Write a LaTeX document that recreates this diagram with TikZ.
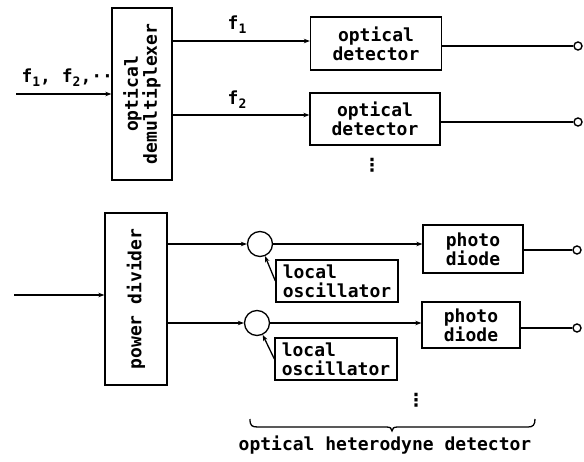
\documentclass[tikz,border=0pt]{standalone}
\usepackage{fontspec}
\newfontfamily\monof{DejaVu Sans Mono}
\newfontfamily\dotf{DejaVu Sans}
\usetikzlibrary{arrows.meta}
\newcommand{\sbs}[1]{\raisebox{-4pt}{\fontsize{13}{13}\selectfont #1}}
\begin{document}
\begin{tikzpicture}[x=1pt,y=-1pt,
  lbl/.style={font=\monof\bfseries\fontsize{18}{19}\selectfont},
  box/.style={draw,line width=1.3pt,rectangle,inner sep=0pt,align=center,lbl},
  mix/.style={draw,line width=1.3pt,circle,minimum size=25pt,inner sep=0pt},
  term/.style={draw,line width=1.4pt,circle,minimum size=8pt,inner sep=0pt},
  arr/.style={line width=1.3pt,-{Stealth[length=6pt,width=4.5pt]}},
  ln/.style={line width=1.3pt},
  vdots/.style={font=\dotf\bfseries\fontsize{18}{18}\selectfont}]
\useasboundingbox (0,0) rectangle (584,462);
% upper part
\node[box,minimum width=60pt,minimum height=172pt] (demux) at (142,94) {};
\node[lbl,rotate=90,align=center] (demuxt) at (demux.center) {optical\\demultiplexer};
\node[box,minimum width=131pt,minimum height=53pt] (det1) at (376,43.4) {optical\\detector};
\node[box,minimum width=130pt,minimum height=52pt] (det2) at (375,119) {optical\\detector};
\coordinate (in1) at (16,94);
\node[lbl,anchor=base west] (inl) at (18,83) {f\sbs{1}, f\sbs{2},··};
\draw[arr] (in1) -- (demux.west |- in1);
\draw[arr] (demux.east |- 0,41) -- (det1.west |- 0,41);
\draw[arr] (demux.east |- 0,115) -- (det2.west |- 0,115);
\node[lbl,anchor=base] (f1) at (237,30) {f\sbs{1}};
\node[lbl,anchor=base] (f2) at (237,105) {f\sbs{2}};
\node[term] (t1) at (578,46) {};
\node[term] (t2) at (578,122) {};
\draw[ln] (det1.east |- t1) -- (t1.west);
\draw[ln] (det2.east |- t2) -- (t2.west);
\node[vdots] (dots1) at (372,165) {⋮};
% lower part
\node[box,minimum width=62pt,minimum height=172pt] (pdiv) at (136,299) {};
\node[lbl,rotate=90] (pdivt) at (pdiv.center) {power divider};
\coordinate (in2) at (14,295);
\draw[arr] (in2) -- (pdiv.west |- in2);
\node[mix] (c1) at (260,244) {};
\node[mix] (c2) at (257,323) {};
\draw[arr] (pdiv.east |- c1) -- (c1.west);
\draw[arr] (pdiv.east |- c2) -- (c2.west);
\node[box,minimum width=122pt,minimum height=42pt,align=left] (lo1) at (337,281) {local\\oscillator};
\node[box,minimum width=122pt,minimum height=42pt,align=left] (lo2) at (336,359) {local\\oscillator};
\draw[arr] (lo1.west) -- (c1);
\draw[arr] (lo2.west) -- (c2);
\node[box,minimum width=100pt,minimum height=48pt] (ph1) at (473,249) {photo\\diode};
\node[box,minimum width=98pt,minimum height=46pt] (ph2) at (471,325) {photo\\diode};
\draw[arr] (c1.east) -- (ph1.west |- c1);
\draw[arr] (c2.east) -- (ph2.west |- c2);
\node[term] (t3) at (577,250) {};
\node[term] (t4) at (577,328) {};
\draw[ln] (ph1.east |- t3) -- (t3.west);
\draw[ln] (ph2.east |- t4) -- (t4.west);
\node[vdots] (dots2) at (416,400) {⋮};
% brace
\draw[ln] (250,419) .. controls (250,426) and (252,427) .. (258,427) -- (386,427)
  .. controls (390,427) and (392,428) .. (392,431)
  .. controls (392,428) and (394,427) .. (398,427) -- (528,427)
  .. controls (533,427) and (535,425) .. (535,419);
\node[lbl,anchor=base] (het) at (385,450) {optical heterodyne detector};
\end{tikzpicture}
\end{document}
